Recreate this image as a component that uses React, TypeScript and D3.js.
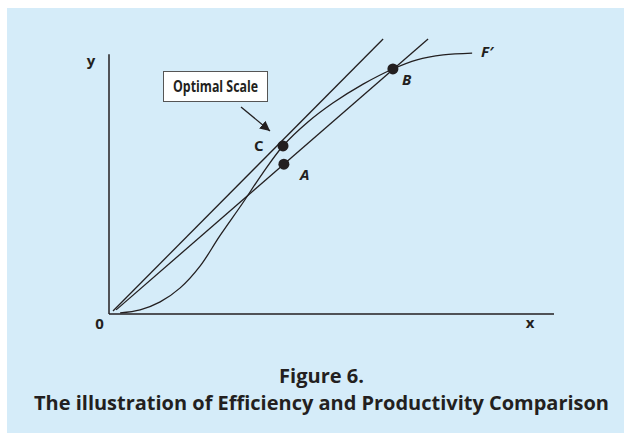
import React from "react";
import * as d3 from "d3";

// Production frontier F' (input x, output y) in abstract units
const curveX = [2.5, 7.0, 11.5, 16.0, 20.5, 24.9, 29.9, 34.4, 39.1, 44.7, 50.3, 57.1, 63.8, 69.2, 75.1, 81.6];
const curveY = [0.4, 1.5, 4.4, 9.5, 17.5, 28.4, 40.0, 50.9, 61.1, 69.8, 76.7, 83.6, 89.1, 92.4, 94.2, 94.9];

// Rays from origin
const ray1X = [0.9, 61.6];
const ray1Y = [1.1, 100];
const ray2X = [1.6, 71.7];
const ray2Y = [1.5, 100];

// Points
const pointNames = ["C", "A", "B"];
const pointX = [39.1, 39.3, 63.8];
const pointY = [61.1, 54.5, 89.1];

const W = 624;
const H = 437;
const ink = "#231f20";
const bg = "#d5ecf9";
const font = "'Open Sans', 'Noto Sans', sans-serif";

export default function App() {
  const x = d3.scaleLinear().domain([0, 100]).range([109, 554]);
  const y = d3.scaleLinear().domain([0, 100]).range([314, 39]);

  const curvePts: [number, number][] = curveX.map((v, i) => [v, curveY[i]]);
  const line = d3
    .line<[number, number]>()
    .x((d) => x(d[0]))
    .y((d) => y(d[1]))
    .curve(d3.curveCatmullRom.alpha(0.5));
  const straight = d3
    .line<[number, number]>()
    .x((d) => x(d[0]))
    .y((d) => y(d[1]));

  const r1: [number, number][] = ray1X.map((v, i) => [v, ray1Y[i]]);
  const r2: [number, number][] = ray2X.map((v, i) => [v, ray2Y[i]]);

  const labelOffsets: Record<string, [number, number, string]> = {
    C: [-29, 5, "start"],
    A: [16, 16, "start"],
    B: [9, 16, "start"],
  };

  return (
    <svg
      width={W}
      height={H}
      style={{ position: "absolute", left: 0, top: 0 }}
      fontFamily={font}
    >
      <defs>
        <marker
          id="arrow"
          viewBox="0 0 10 10"
          refX="10"
          refY="5"
          markerWidth="10"
          markerHeight="10"
          markerUnits="userSpaceOnUse"
          orient="auto"
        >
          <path d="M0,0 L10,5 L0,10 z" fill={ink} />
        </marker>
      </defs>
      <rect x={0} y={0} width={W} height={H} fill="#fff" />
      <rect x={7} y={8} width={617} height={425} fill={bg} />

      {/* axes */}
      <line x1={x(0)} y1={y(0)} x2={x(0)} y2={y(94.5)} stroke={ink} strokeWidth={1.5} />
      <line x1={x(0)} y1={y(0)} x2={x(100)} y2={y(0)} stroke={ink} strokeWidth={1.5} />

      {/* rays */}
      <path d={straight(r1) || ""} stroke={ink} strokeWidth={1.3} fill="none" />
      <path d={straight(r2) || ""} stroke={ink} strokeWidth={1.3} fill="none" />

      {/* frontier */}
      <path d={line(curvePts) || ""} stroke={ink} strokeWidth={1.3} fill="none" />

      {/* points */}
      {pointNames.map((n, i) => {
        const [dx, dy, anchor] = labelOffsets[n];
        return (
          <g key={n}>
            <circle cx={x(pointX[i])} cy={y(pointY[i])} r={5.5} fill={ink} />
            <text
              x={x(pointX[i]) + dx}
              y={y(pointY[i]) + dy}
              textAnchor={anchor}
              fontSize={15}
              fontWeight="bold"
              fontStyle={n === "C" ? "normal" : "italic"}
              fill={ink}
            >
              {n}
            </text>
          </g>
        );
      })}

      <text x={481} y={57} fontSize={15} fontWeight="bold" fontStyle="italic" fill={ink}>
        F′
      </text>

      {/* axis labels */}
      <text x={91} y={66} textAnchor="middle" fontSize={15} fontWeight="bold" fill={ink}>
        y
      </text>
      <text x={99.5} y={329} textAnchor="middle" fontSize={15} fontWeight="bold" fill={ink}>
        0
      </text>
      <text x={530} y={328} textAnchor="middle" fontSize={15} fontWeight="bold" fill={ink}>
        x
      </text>

      {/* annotation */}
      <rect x={163.5} y={71.5} width={104} height={30} fill="#fff" stroke="#555" strokeWidth={1} />
      <text
        x={215.5}
        y={91.5}
        textAnchor="middle"
        fontSize={15.5}
        fontWeight="bold"
        fill={ink}
        textLength={85}
        lengthAdjust="spacingAndGlyphs"
      >
        Optimal Scale
      </text>
      <line x1={241} y1={107} x2={270} y2={131} stroke={ink} strokeWidth={1.3} markerEnd="url(#arrow)" />

      {/* caption */}
      <text
        x={321.5}
        y={383}
        textAnchor="middle"
        fontSize={20}
        fontWeight="bold"
        fill={ink}
        textLength={85}
        lengthAdjust="spacingAndGlyphs"
      >
        Figure 6.
      </text>
      <text
        x={321.5}
        y={410}
        textAnchor="middle"
        fontSize={20}
        fontWeight="bold"
        fill={ink}
        textLength={575}
        lengthAdjust="spacingAndGlyphs"
      >
        The illustration of Efficiency and Productivity Comparison
      </text>
    </svg>
  );
}
